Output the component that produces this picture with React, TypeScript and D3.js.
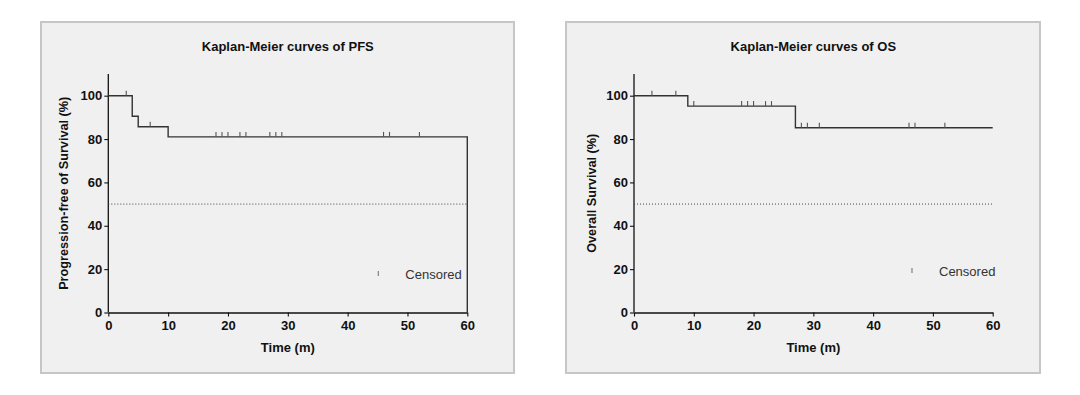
import * as d3 from 'd3'
import { useRef, useEffect } from 'react'

// PFS curve: step times and survival (%)
const pfsTimes = [0, 4, 5, 10, 60]
const pfsSurv = [100, 90.5, 85.7, 81.0, 0]
const pfsCensored = [3, 7, 18, 19, 20, 22, 23, 27, 28, 29, 46, 47, 52]

// OS curve
const osTimes = [0, 9, 27, 60]
const osSurv = [100, 95.2, 85.2, 85.2]
const osCensored = [3, 7, 10, 18, 19, 20, 22, 23, 28, 29, 31, 46, 47, 52]

const xTicks = [0, 10, 20, 30, 40, 50, 60]
const yTicks = [0, 20, 40, 60, 80, 100]
const medianLine = 50

const panels = [
  {
    title: 'Kaplan-Meier curves of PFS',
    yLabel: 'Progression-free of Survival (%)',
    times: pfsTimes,
    surv: pfsSurv,
    censored: pfsCensored,
    box: { x: 41, y: 22, w: 473, h: 351 },
    plot: { left: 108.3, right: 467.3, top: 74, bottom: 312.5 },
    legend: { dx: 270, dy: 200 },
    labelX: 63
  },
  {
    title: 'Kaplan-Meier curves of OS',
    yLabel: 'Overall Survival (%)',
    times: osTimes,
    surv: osSurv,
    censored: osCensored,
    box: { x: 566, y: 22, w: 474, h: 351 },
    plot: { left: 634, right: 992.7, top: 74, bottom: 312.5 },
    legend: { dx: 278, dy: 197 },
    labelX: 591
  }
]

const App = () => {
  const ref = useRef<SVGSVGElement>(null)

  useEffect(() => {
    const svg = d3.select(ref.current)
    svg.selectAll('*').remove()
    const font = 'Liberation Sans, Arial, sans-serif'

    panels.forEach((p) => {
      const g = svg.append('g')
      g.append('rect')
        .attr('x', p.box.x)
        .attr('y', p.box.y)
        .attr('width', p.box.w)
        .attr('height', p.box.h)
        .attr('fill', '#f0f0f0')
        .attr('stroke', '#c6c6c6')
        .attr('stroke-width', 2)

      const x = d3.scaleLinear().domain([0, 60]).range([p.plot.left, p.plot.right])
      const y = d3.scaleLinear().domain([0, 110]).range([p.plot.bottom, p.plot.top])

      // axes
      const xAxis = g
        .append('g')
        .attr('transform', 'translate(0,' + p.plot.bottom + ')')
        .call(d3.axisBottom(x).tickValues(xTicks).tickSize(4).tickSizeOuter(0))
      const yAxis = g
        .append('g')
        .attr('transform', 'translate(' + p.plot.left + ',0)')
        .call(d3.axisLeft(y).tickValues(yTicks).tickSize(4).tickSizeOuter(0))
      ;[xAxis, yAxis].forEach((a) => {
        a.select('.domain').attr('stroke', '#111').attr('stroke-width', 1.3)
        a.selectAll('.tick line').attr('stroke', '#111').attr('stroke-width', 1.1)
        a.selectAll('.tick text')
          .attr('fill', '#111')
          .style('font-family', font)
          .style('font-size', '13px')
          .style('font-weight', 'bold')
      })
      // y axis line reaches the top of the domain (110)
      yAxis.select('.domain').attr('d', 'M0,' + y(0) + 'V' + y(110))
      xAxis.selectAll('.tick text').attr('dy', '0.85em').attr('y', 6)
      yAxis.selectAll('.tick text').attr('x', -6)

      // median reference line
      g.append('line')
        .attr('x1', x(0))
        .attr('x2', x(60))
        .attr('y1', y(medianLine))
        .attr('y2', y(medianLine))
        .attr('stroke', '#444')
        .attr('stroke-width', 1)
        .attr('stroke-dasharray', '1,2')

      // step curve
      const pts: [number, number][] = p.times.map((t, i) => [t, p.surv[i]])
      const line = d3
        .line<[number, number]>()
        .x((d) => x(d[0]))
        .y((d) => y(d[1]))
        .curve(d3.curveStepAfter)
      g.append('path')
        .attr('d', line(pts))
        .attr('fill', 'none')
        .attr('stroke', '#333')
        .attr('stroke-width', 1.4)

      // censor marks
      const survAt = (t: number) => {
        let s = p.surv[0]
        p.times.forEach((tt, i) => {
          if (tt <= t) s = p.surv[i]
        })
        return s
      }
      g.selectAll('.censor')
        .data(p.censored)
        .enter()
        .append('line')
        .attr('x1', (d) => x(d))
        .attr('x2', (d) => x(d))
        .attr('y1', (d) => y(survAt(d)))
        .attr('y2', (d) => y(survAt(d)) - 5)
        .attr('stroke', '#555')
        .attr('stroke-width', 1.1)

      // legend
      const lx = p.plot.left + p.legend.dx
      const ly = p.plot.top + p.legend.dy
      g.append('line')
        .attr('x1', lx)
        .attr('x2', lx)
        .attr('y1', ly - 3)
        .attr('y2', ly + 2)
        .attr('stroke', '#777')
        .attr('stroke-width', 1.1)
      g.append('text')
        .attr('x', lx + 27)
        .attr('y', ly + 5)
        .attr('fill', '#333')
        .style('font-family', font)
        .style('font-size', '13px')
        .text('Censored')

      // titles
      const cx = (p.plot.left + p.plot.right) / 2
      g.append('text')
        .attr('x', cx)
        .attr('y', 51)
        .attr('text-anchor', 'middle')
        .attr('fill', '#111')
        .style('font-family', font)
        .style('font-size', '13px')
        .style('font-weight', 'bold')
        .text(p.title)
      g.append('text')
        .attr('x', cx)
        .attr('y', 352)
        .attr('text-anchor', 'middle')
        .attr('fill', '#111')
        .style('font-family', font)
        .style('font-size', '13px')
        .style('font-weight', 'bold')
        .text('Time (m)')
      g.append('text')
        .attr('transform', 'translate(' + (p.labelX + 4.5) + ',' + y(55) + ') rotate(-90)')
        .attr('text-anchor', 'middle')
        .attr('fill', '#111')
        .style('font-family', font)
        .style('font-size', '12.7px')
        .style('font-weight', 'bold')
        .text(p.yLabel)
    })
  }, [])

  return (
    <div style={{ position: 'absolute', left: 0, top: 0, background: '#fff' }}>
      <svg ref={ref} width={1080} height={395} style={{ display: 'block' }}></svg>
    </div>
  )
}

export default App
